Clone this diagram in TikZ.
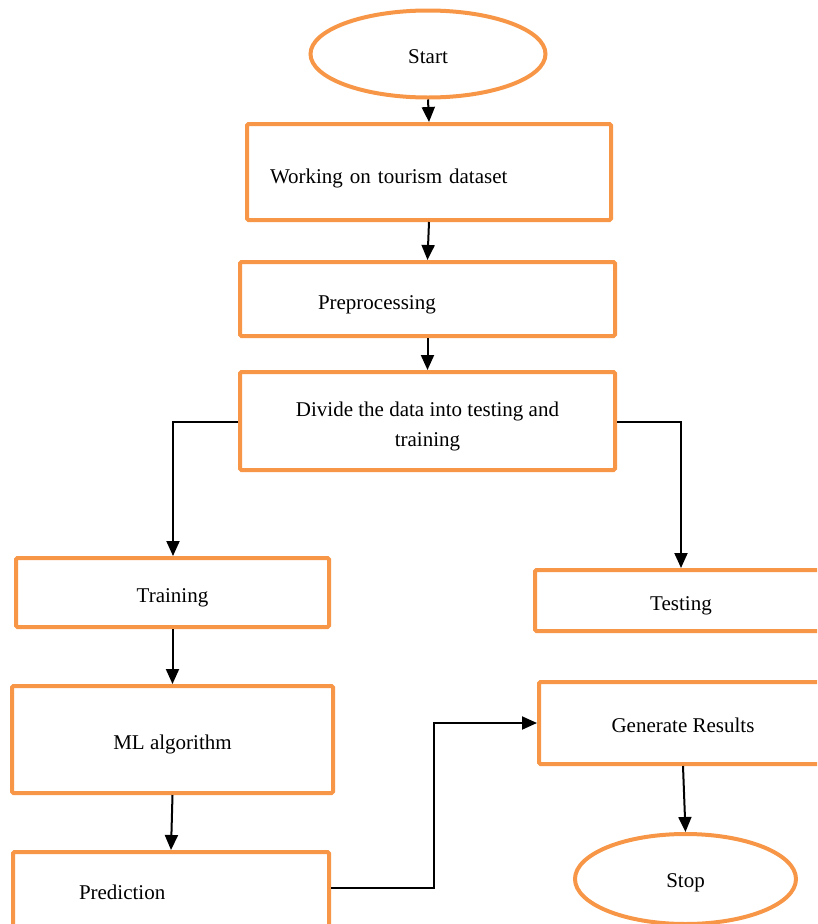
\documentclass[tikz,border=0pt]{standalone}
\usepackage{fontspec}
\setmainfont{Liberation Serif}
\usetikzlibrary{shapes.geometric,arrows.meta}
\definecolor{boxorange}{HTML}{F79646}
\newcommand{\lowertext}[2]{\raisebox{-#1pt}[\height][\depth]{#2}}
\tikzset{
  box/.style={draw=boxorange, line width=4pt, rounded corners=1.5pt, rectangle, inner sep=0pt, font=\fontsize{21}{30}\selectfont},
  oval/.style={draw=boxorange, line width=4pt, ellipse, inner sep=0pt, font=\fontsize{21}{30}\selectfont},
  conn/.style={draw=black, line width=2pt, -{Triangle[length=15pt,width=13pt]}},
  plain/.style={draw=black, line width=2pt}
}
\begin{document}
\begin{tikzpicture}[x=1pt,y=-1pt]
\useasboundingbox (0,0) rectangle (817,924);
\clip (0,0) rectangle (817,924);
% nodes
\node[oval, minimum width=235pt, minimum height=87pt] (start) at (428,54) {\lowertext{3}{Start}};
\node[box, minimum height=96pt, inner xsep=23pt, text width=318pt, align=left] (work) at (429,172) {\lowertext{6}{Working on tourism dataset}};
\node[box, minimum height=74pt, inner xsep=78pt, text width=219pt, align=left] (pre) at (427.5,299) {\lowertext{6}{Preprocessing}};
\node[box, minimum width=375pt, minimum height=98pt, align=center] (div) at (427.5,421) {\lowertext{5}{Divide the data into testing and}\\\lowertext{5}{training}};
\node[box, minimum width=313pt, minimum height=69pt] (train) at (172.5,592.5) {\lowertext{5}{Training}};
\node[box, minimum width=292pt, minimum height=61pt] (test) at (681,600.5) {\lowertext{5}{Testing}};
\node[box, minimum width=321pt, minimum height=107pt] (ml) at (172.5,739.5) {\lowertext{5}{ML algorithm}};
\node[box, minimum height=80pt, inner xsep=66pt, text width=184pt, align=left] (pred) at (171,892) {Prediction};
\node[box, minimum width=288pt, minimum height=82pt] (gen) at (683,723) {\lowertext{2}{Generate Results}};
\node[oval, minimum width=221pt, minimum height=90pt] (stop) at (685.5,879) {\lowertext{4}{Stop}};
% connectors
\coordinate (c1) at (173,422);
\coordinate (c2) at (681,422);
\coordinate (c3) at (434,888);
\coordinate (c4) at (434,723);
\draw[conn] (start.south) -- (work.north);
\draw[conn] (work.south) -- (pre.north);
\draw[conn] (pre.south) -- (div.north);
\draw[conn] (div.west |- c1) -- (c1) -- (train.north -| c1);
\draw[conn] (div.east |- c2) -- (c2) -- (test.north -| c2);
\draw[conn] (train.south) -- (ml.north);
\draw[conn] (ml.south) -- (pred.north);
\draw[conn] (pred.east |- c3) -- (c3) -- (c4) -- (gen.west |- c4);
\draw[conn] (gen.south) -- (stop.north);
\end{tikzpicture}
\end{document}
